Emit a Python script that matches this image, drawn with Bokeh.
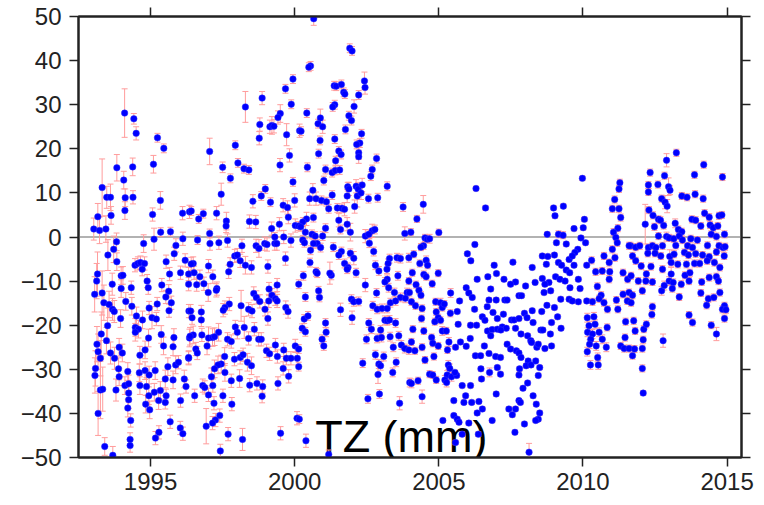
from bokeh.plotting import figure
from bokeh.models import ColumnDataSource, Whisker, TeeHead, FixedTicker, LinearAxis, Span, Label
from bokeh.embed import file_html
from bokeh.resources import INLINE

# (decimal year, TZ in mm, error in mm), per period
seg_1993_1996 = [
    (1994.10, 28.1, 5.5), (1994.42, 26.8, 1.2), (1994.50, 23.5, 1.5), (1995.24, 22.5, 1.0), (1995.46, 20.1, 1.0),
    (1993.83, 15.7, 3.0), (1994.07, 12.9, 2.0), (1994.38, 15.9, 2.0), (1995.10, 16.5, 2.0), (1993.32, 11.2, 6.5),
    (1993.48, 9.0, 2.5), (1993.61, 9.0, 3.0), (1994.12, 8.9, 2.0), (1994.39, 9.0, 1.5), (1994.11, 6.0, 2.0),
    (1993.63, 4.9, 2.0), (1993.17, 4.6, 3.0), (1995.07, 5.1, 1.5), (1995.34, 8.3, 2.0), (1993.03, 1.8, 2.5),
    (1993.23, 1.5, 3.0), (1993.45, 1.8, 3.0), (1995.35, 1.1, 1.0), (1995.69, 1.2, 1.0), (1996.11, 5.4, 1.5),
    (1996.35, 5.7, 1.5), (1995.12, -0.5, 2.5), (1993.82, -1.1, 2.0), (1994.76, -1.5, 2.0), (1993.72, -2.8, 3.0),
    (1993.52, -4.1, 3.5), (1993.83, -5.6, 2.0), (1994.46, -6.4, 1.5), (1994.56, -6.0, 1.5), (1994.65, -5.8, 1.5),
    (1994.79, -6.0, 1.5), (1994.71, -7.3, 1.5), (1995.54, -5.6, 1.5), (1995.88, -1.9, 1.5), (1996.12, -0.4, 1.5),
    (1995.82, -3.8, 1.5), (1996.20, -5.3, 1.5), (1996.32, -8.4, 1.5), (1996.04, -8.1, 1.5), (1995.66, -8.4, 1.5),
    (1993.16, -8.4, 5.0), (1993.13, -10.0, 4.0), (1993.67, -10.7, 2.5), (1993.98, -8.8, 2.0), (1994.04, -8.7, 2.0),
    (1993.98, -11.7, 2.0), (1994.33, -11.5, 1.5), (1994.88, -10.0, 1.5), (1994.92, -11.5, 1.5), (1995.39, -10.9, 1.5),
    (1995.63, -12.3, 1.5), (1995.53, -13.6, 1.5), (1993.06, -13.0, 4.0), (1993.32, -12.7, 5.0), (1993.38, -14.9, 4.0),
    (1993.56, -15.3, 3.0), (1993.68, -16.4, 2.5), (1993.74, -16.9, 2.5), (1994.14, -14.6, 2.0), (1994.35, -15.7, 2.0),
    (1993.96, -18.5, 2.0), (1994.51, -17.9, 2.0), (1994.72, -18.8, 2.0), (1994.95, -16.1, 1.5), (1995.05, -18.3, 2.5),
    (1995.23, -15.2, 1.5), (1995.20, -18.6, 1.5), (1995.64, -16.7, 1.5), (1995.72, -14.9, 1.5), (1996.33, -16.8, 1.5),
    (1993.51, -20.1, 4.0), (1994.47, -20.5, 2.0), (1994.58, -20.9, 2.0), (1994.47, -21.6, 2.0), (1993.29, -22.0, 5.0),
    (1994.93, -22.9, 2.0), (1995.37, -22.1, 2.0), (1995.81, -22.8, 2.0), (1996.35, -22.9, 2.0), (1993.14, -24.3, 4.0),
    (1993.47, -23.5, 3.0), (1993.91, -25.0, 2.0), (1995.45, -24.7, 2.0), (1995.78, -24.9, 2.0), (1993.18, -26.0, 4.0),
    (1993.26, -27.5, 4.0), (1993.61, -26.3, 2.5), (1993.75, -27.5, 2.5), (1994.02, -26.3, 2.0), (1994.81, -25.6, 2.0),
    (1994.63, -26.8, 2.0), (1995.60, -29.4, 2.0), (1995.87, -29.0, 2.0), (1995.97, -28.4, 1.5), (1996.32, -27.5, 1.5),
    (1993.09, -29.8, 4.0), (1993.07, -31.4, 4.0), (1993.89, -29.9, 2.5), (1994.21, -30.5, 2.0), (1994.61, -30.8, 2.0),
    (1994.81, -30.3, 2.0), (1994.95, -31.3, 2.0), (1995.16, -30.3, 2.0), (1993.91, -31.7, 2.0), (1995.51, -32.2, 2.0),
    (1995.78, -32.4, 2.0), (1996.17, -32.2, 2.0), (1993.26, -34.7, 6.5), (1993.34, -34.5, 5.0), (1993.80, -34.7, 2.5),
    (1994.11, -33.7, 2.0), (1994.24, -33.3, 2.0), (1994.63, -33.7, 2.0), (1994.86, -33.9, 2.0), (1994.94, -36.0, 2.0),
    (1995.13, -35.2, 2.0), (1995.34, -34.8, 2.0), (1996.23, -33.9, 1.5), (1994.24, -35.4, 2.0), (1994.24, -36.9, 2.0),
    (1994.21, -38.8, 2.0), (1994.83, -37.9, 2.0), (1994.97, -39.2, 2.0), (1995.28, -37.1, 2.0), (1995.54, -36.0, 1.5),
    (1995.51, -37.5, 1.5), (1996.04, -37.1, 1.5), (1993.18, -40.0, 5.0), (1994.31, -41.6, 1.5), (1995.68, -41.9, 1.5),
    (1995.29, -44.3, 1.5), (1995.17, -45.6, 1.5), (1996.03, -43.3, 1.5), (1996.12, -44.6, 1.5), (1994.29, -45.9, 1.5),
    (1994.29, -47.3, 1.5), (1993.41, -47.5, 2.0), (1993.69, -49.5, 2.0),
]

seg_1996_2000 = [
    (1999.94, 35.8, 1.0), (1999.68, 33.6, 1.0), (1999.88, 30.1, 1.0), (1998.87, 31.5, 1.5), (1998.29, 29.5, 3.5),
    (1999.50, 28.0, 2.0), (1999.42, 27.1, 1.5), (1998.79, 25.5, 1.5), (1999.14, 25.0, 1.5), (1999.21, 25.3, 2.0),
    (1999.28, 25.1, 1.5), (1998.77, 22.4, 1.5), (1999.72, 23.2, 2.5), (2000.17, 24.1, 1.5), (1997.94, 20.8, 1.0),
    (1997.05, 19.4, 3.0), (1999.82, 18.5, 1.5), (1999.49, 16.3, 1.5), (1998.03, 16.8, 1.0), (1998.24, 15.5, 1.0),
    (1998.41, 15.2, 1.0), (1997.50, 15.8, 1.2), (1997.77, 13.3, 1.0), (1999.94, 12.5, 1.0), (1998.98, 10.9, 1.0),
    (1998.84, 9.3, 1.0), (1997.45, 9.7, 2.5), (1998.55, 8.1, 1.5), (1999.16, 7.9, 1.0), (2000.00, 8.3, 1.5),
    (1999.60, 7.2, 1.5), (1999.75, 6.7, 1.5), (1996.41, 5.9, 1.0), (1996.67, 4.1, 1.0), (1996.83, 5.3, 1.0),
    (1997.29, 5.4, 1.5), (1997.63, 3.6, 2.0), (1997.62, 2.5, 1.5), (1998.43, 3.5, 1.5), (1998.65, 3.4, 1.5),
    (1999.78, 4.5, 1.5), (1999.47, 2.9, 1.5), (1999.20, 1.9, 1.5), (2000.02, 2.6, 1.5), (1997.05, 0.8, 1.0),
    (1999.31, 0.0, 1.0), (1999.62, 0.0, 1.5), (1996.63, -0.7, 1.0), (1997.67, -0.8, 1.5), (1998.17, -2.0, 1.5),
    (1998.66, -2.0, 1.5), (1999.87, -0.8, 1.5), (1997.06, -1.5, 1.5), (1997.37, -1.3, 1.5), (1998.76, -2.6, 2.0),
    (1998.96, -1.5, 1.5), (1999.04, -1.7, 1.5), (1999.31, -1.5, 1.5), (1999.38, -1.5, 1.5), (1999.68, -4.9, 1.5),
    (1997.92, -4.3, 1.5), (1998.01, -4.1, 1.5), (1997.76, -6.2, 1.5), (1998.11, -5.4, 1.5), (1998.29, -6.4, 2.0),
    (1998.50, -6.9, 1.5), (1999.07, -6.7, 1.5), (1997.71, -7.9, 1.5), (1996.48, -6.0, 1.5), (1996.41, -6.1, 1.5),
    (1997.01, -6.6, 1.5), (1996.51, -8.1, 1.5), (1996.71, -9.0, 1.5), (1997.16, -9.0, 1.5), (1996.32, -10.7, 1.5),
    (1996.60, -10.8, 1.5), (1996.85, -10.6, 1.5), (1997.30, -11.7, 1.5), (1997.00, -12.6, 2.0), (1997.28, -12.1, 1.5),
    (1999.39, -10.9, 1.5), (1999.11, -11.8, 1.5), (1998.58, -12.8, 1.5), (1998.67, -13.7, 1.5), (1999.21, -13.2, 1.5),
    (1999.33, -14.0, 1.5), (1999.39, -14.5, 1.5), (1998.79, -14.6, 1.5), (1999.10, -14.5, 1.5), (1998.14, -15.6, 3.5),
    (1997.73, -15.2, 1.5), (1997.58, -16.0, 1.5), (1997.52, -16.6, 1.5), (1998.40, -16.4, 1.5), (1998.52, -16.8, 1.5),
    (1998.97, -16.4, 1.5), (1999.69, -16.0, 1.5), (1999.77, -16.9, 1.5), (1996.39, -16.8, 1.5), (1996.76, -17.0, 1.5),
    (1996.76, -18.8, 1.5), (1996.44, -18.3, 1.5), (1999.07, -18.5, 1.5), (1997.94, -20.4, 1.5), (1998.25, -20.5, 2.5),
    (1998.60, -20.9, 1.5), (1998.01, -21.6, 1.5), (1996.48, -22.2, 2.0), (1996.37, -22.5, 2.0), (1996.78, -22.2, 1.5),
    (1997.01, -22.9, 2.5), (1997.15, -22.8, 2.0), (1997.36, -21.6, 2.0), (1997.22, -22.6, 2.0), (1997.67, -23.2, 1.5),
    (1997.80, -23.7, 1.5), (1998.40, -23.0, 1.5), (1998.75, -23.2, 1.5), (1998.84, -23.2, 1.5), (1996.96, -24.7, 2.0),
    (1996.57, -25.4, 1.5), (1996.62, -26.3, 1.5), (1996.32, -27.3, 1.5), (1997.57, -27.1, 2.0), (1997.91, -27.7, 1.5),
    (1998.11, -27.3, 1.5), (1998.21, -26.7, 1.5), (1999.02, -25.8, 1.5), (1999.33, -24.5, 1.5), (1999.13, -26.5, 1.5),
    (1999.40, -27.1, 1.5), (1999.62, -25.6, 1.5), (1999.71, -27.5, 1.5), (1999.87, -27.5, 1.5), (2000.02, -24.7, 1.5),
    (2000.09, -27.5, 1.5), (1998.36, -28.4, 2.0), (1998.50, -29.2, 2.0), (1997.45, -28.8, 2.0), (1997.34, -29.0, 2.0),
    (1997.22, -29.9, 2.0), (1999.60, -29.8, 1.5), (1997.11, -31.7, 2.0), (1997.58, -30.7, 2.0), (1999.79, -31.6, 1.5),
    (1997.80, -32.6, 1.5), (1998.09, -32.1, 2.0), (1998.44, -33.6, 1.5), (1998.69, -33.2, 1.5), (1998.89, -33.9, 1.5),
    (1999.42, -33.2, 1.5), (1996.81, -33.7, 1.5), (1996.88, -34.1, 1.5), (1997.16, -33.7, 1.5), (1996.53, -36.0, 1.5),
    (1997.01, -35.8, 1.5), (1997.51, -36.0, 1.5), (1997.20, -37.7, 1.5), (1997.82, -37.9, 1.5), (1998.87, -36.1, 1.5),
    (1997.40, -40.5, 1.5), (1997.25, -41.5, 1.5), (1997.15, -42.2, 1.5), (1996.93, -42.9, 4.0), (1997.69, -44.7, 1.5),
    (1998.19, -45.9, 2.5), (1999.51, -44.5, 1.5), (2000.08, -41.1, 1.5), (1997.42, -48.5, 1.5),
]

seg_2000_2004 = [
    (2000.66, 49.5, 1.5), (2001.91, 42.8, 1.0), (2001.99, 42.2, 1.0), (2000.55, 38.8, 1.0), (2000.49, 38.5, 1.0),
    (2001.37, 34.3, 1.0), (2001.44, 34.2, 1.0), (2001.62, 34.6, 1.0), (2002.42, 35.4, 2.0), (2002.44, 33.9, 1.5),
    (2001.70, 32.8, 1.0), (2001.74, 32.4, 1.0), (2002.22, 32.2, 1.0), (2000.42, 28.1, 1.0), (2000.22, 24.0, 1.0),
    (2001.39, 30.0, 1.0), (2001.32, 29.5, 1.0), (2002.06, 29.6, 1.5), (2000.89, 27.0, 2.0), (2000.81, 25.7, 1.0),
    (2000.97, 25.0, 1.5), (2001.88, 27.5, 1.0), (2001.97, 26.4, 1.0), (2001.76, 24.4, 1.0), (2002.32, 23.4, 1.0),
    (2002.26, 21.3, 1.0), (2002.15, 21.0, 1.0), (2002.22, 19.1, 1.5), (2002.22, 18.2, 1.5), (2001.39, 22.2, 1.0),
    (2000.88, 21.9, 1.0), (2000.83, 18.9, 1.0), (2001.53, 19.5, 1.0), (2001.61, 18.7, 1.0), (2001.42, 17.3, 1.0),
    (2002.84, 17.8, 1.0), (2000.44, 15.8, 1.0), (2001.07, 15.3, 1.0), (2001.30, 14.6, 1.0), (2001.41, 15.1, 1.0),
    (2001.56, 15.2, 1.0), (2002.69, 15.3, 1.0), (2002.64, 13.8, 1.0), (2001.01, 12.8, 1.0), (2001.84, 11.4, 1.0),
    (2001.88, 10.9, 1.5), (2002.13, 11.5, 1.5), (2002.20, 10.9, 1.5), (2002.34, 11.8, 1.5), (2003.21, 11.5, 1.0),
    (2000.63, 10.6, 1.5), (2000.52, 8.7, 1.5), (2000.74, 8.7, 1.5), (2000.93, 8.3, 1.0), (2001.10, 8.0, 1.0),
    (2001.30, 9.5, 1.0), (2001.18, 6.4, 1.0), (2001.82, 9.3, 1.5), (2002.17, 9.3, 2.5), (2002.30, 10.0, 1.5),
    (2002.56, 8.7, 1.0), (2002.88, 8.9, 1.0), (2001.48, 6.6, 1.0), (2001.64, 6.5, 1.0), (2001.73, 6.3, 1.5),
    (2002.08, 6.9, 1.5), (2003.76, 6.8, 1.0), (2000.41, 4.1, 1.5), (2000.65, 4.4, 1.0), (2000.28, 3.4, 1.0),
    (2001.53, 3.8, 1.5), (2001.82, 2.9, 1.5), (2001.07, 2.0, 1.0), (2001.59, 1.7, 1.0), (2001.93, 1.1, 2.0),
    (2000.14, 2.5, 1.0), (2000.21, 2.3, 1.0), (2002.69, 1.4, 1.5), (2002.78, 1.7, 1.0), (2000.37, 1.1, 1.5),
    (2000.60, 0.6, 1.0), (2000.71, 0.2, 1.0), (2002.45, 0.2, 1.5), (2002.57, 0.6, 1.0), (2000.97, 0.2, 1.0),
    (2003.82, 0.8, 1.5), (2000.28, -0.7, 1.0), (2000.34, -1.3, 1.0), (2000.78, -1.5, 1.0), (2000.65, -1.5, 1.0),
    (2000.90, -2.4, 1.0), (2000.55, -3.0, 1.0), (2002.59, -1.4, 1.0), (2001.34, -2.3, 1.0), (2001.62, -3.3, 1.0),
    (2001.53, -4.1, 1.0), (2001.93, -3.7, 1.0), (2002.05, -4.8, 1.5), (2002.74, -3.3, 1.0), (2000.53, -5.8, 1.0),
    (2001.73, -6.0, 1.0), (2001.85, -6.9, 1.0), (2003.29, -4.9, 1.0), (2003.55, -4.7, 1.0), (2003.67, -4.9, 1.0),
    (2002.80, -6.4, 1.0), (2002.92, -7.7, 1.0), (2003.24, -6.0, 1.0), (2003.20, -7.3, 1.0), (2003.96, -4.7, 1.0),
    (2000.74, -7.9, 1.0), (2001.27, -8.7, 1.0), (2001.22, -8.2, 2.5), (2000.78, -8.2, 1.0), (2001.82, -7.3, 1.0),
    (2002.13, -8.1, 1.0), (2003.21, -9.6, 1.0), (2003.58, -8.8, 1.0), (2003.13, -10.2, 1.0), (2002.45, -10.9, 1.5),
    (2003.26, -11.5, 1.0), (2000.14, -10.7, 1.0), (2000.30, -8.8, 1.0), (2000.37, -13.6, 1.0), (2000.83, -12.2, 1.0),
    (2000.86, -13.7, 1.0), (2002.84, -12.7, 1.0), (2003.46, -12.6, 1.0), (2003.90, -12.6, 1.0), (2001.97, -14.1, 1.0),
    (2002.05, -14.7, 1.0), (2002.22, -14.6, 1.0), (2003.67, -13.7, 1.0), (2001.59, -16.5, 1.5), (2002.71, -15.6, 1.0),
    (2002.86, -16.4, 1.0), (2003.03, -16.2, 1.0), (2003.32, -14.9, 1.0), (2003.50, -14.5, 1.0), (2003.21, -16.2, 1.0),
    (2003.84, -13.9, 1.0), (2001.99, -18.3, 1.5), (2000.33, -18.6, 1.0), (2001.07, -19.5, 1.0), (2000.46, -17.9, 1.0),
    (2003.13, -18.9, 1.0), (2003.21, -19.0, 1.0), (2003.29, -18.8, 1.0), (2003.50, -19.5, 1.0), (2002.57, -19.5, 1.0),
    (2002.66, -20.9, 1.0), (2002.98, -21.1, 1.0), (2000.26, -20.7, 1.0), (2000.37, -21.5, 1.0), (2001.09, -21.6, 1.0),
    (2000.95, -23.2, 1.0), (2001.01, -24.7, 1.0), (2002.49, -23.2, 1.0), (2002.86, -23.0, 1.0), (2003.01, -22.8, 1.0),
    (2003.31, -22.6, 1.0), (2003.61, -22.4, 1.0), (2003.42, -25.0, 1.0), (2003.70, -24.5, 1.0), (2003.82, -25.3, 1.0),
    (2003.96, -25.6, 1.0), (2000.14, -25.4, 1.0), (2002.80, -26.7, 1.0), (2003.09, -27.1, 1.0), (2002.36, -28.6, 1.0),
    (2002.92, -28.8, 1.0), (2002.98, -29.2, 1.0), (2003.52, -28.4, 1.0), (2000.14, -29.4, 1.0), (2002.89, -31.2, 2.0),
    (2003.40, -30.7, 1.0), (2003.99, -33.0, 1.0), (2002.94, -35.6, 1.0), (2002.54, -36.7, 1.0), (2003.64, -37.7, 1.5),
    (2000.39, -46.2, 1.5), (2001.18, -49.3, 1.0), (2000.16, -41.3, 1.0),
]

seg_2004_2007 = [
    (2006.29, 11.0, 0.5), (2006.62, 6.6, 0.5), (2004.46, 7.4, 2.0), (2004.24, 4.1, 0.8), (2004.03, 1.1, 0.8),
    (2005.00, 1.0, 0.8), (2004.52, -0.2, 0.8), (2004.60, -0.5, 0.8), (2004.68, -0.4, 1.0), (2004.47, -2.0, 0.8),
    (2004.38, -2.3, 0.8), (2004.13, -3.9, 0.8), (2006.25, -1.7, 0.5), (2005.99, -3.8, 0.5), (2006.11, -5.4, 0.5),
    (2006.92, -6.4, 0.5), (2007.00, -8.3, 0.5), (2007.57, -5.7, 0.5), (2004.56, -5.3, 1.0), (2004.34, -6.0, 0.8),
    (2004.61, -6.4, 0.8), (2004.08, -8.1, 0.8), (2004.98, -8.2, 0.8), (2004.48, -8.5, 0.8), (2004.56, -9.0, 0.8),
    (2004.21, -10.8, 0.8), (2004.77, -10.6, 0.8), (2003.96, -10.0, 0.8), (2006.33, -9.6, 0.5), (2006.70, -9.0, 0.5),
    (2007.26, -9.6, 0.5), (2007.66, -10.2, 0.5), (2005.95, -11.5, 0.5), (2006.04, -12.7, 0.5), (2006.16, -13.7, 0.5),
    (2005.41, -12.7, 1.0), (2006.80, -11.8, 0.5), (2007.49, -10.7, 0.5), (2003.98, -12.6, 0.8), (2004.31, -12.1, 0.8),
    (2004.38, -13.2, 0.8), (2004.05, -14.7, 0.8), (2004.19, -15.6, 0.8), (2004.89, -14.7, 0.8), (2005.06, -14.9, 1.0),
    (2005.12, -16.0, 0.8), (2005.19, -15.2, 0.8), (2005.72, -14.5, 0.5), (2006.74, -14.3, 0.5), (2006.99, -14.3, 0.5),
    (2007.29, -14.3, 0.5), (2007.37, -14.3, 0.5), (2007.78, -13.3, 0.5), (2006.24, -16.4, 0.5), (2006.68, -15.8, 0.5),
    (2004.42, -16.2, 0.8), (2004.91, -17.0, 0.8), (2005.40, -17.3, 0.8), (2005.64, -16.9, 0.5), (2006.88, -17.1, 0.5),
    (2007.03, -18.5, 0.5), (2007.24, -17.5, 0.5), (2007.52, -18.8, 0.5), (2004.98, -18.3, 0.8), (2005.06, -18.9, 0.8),
    (2004.40, -18.5, 0.8), (2004.86, -19.2, 0.8), (2005.67, -19.8, 0.5), (2006.10, -20.0, 0.5), (2006.31, -20.0, 0.5),
    (2006.51, -18.1, 0.5), (2006.60, -18.9, 0.5), (2007.20, -20.4, 0.5), (2007.34, -20.7, 0.5), (2007.61, -18.8, 0.5),
    (2004.10, -20.9, 0.8), (2004.48, -21.3, 0.8), (2005.12, -21.3, 1.0), (2005.26, -21.3, 0.8), (2006.69, -21.3, 0.5),
    (2006.85, -21.0, 0.5), (2007.03, -20.9, 0.5), (2007.15, -21.1, 0.5), (2007.66, -20.7, 0.5), (2006.09, -23.0, 0.5),
    (2006.80, -22.4, 0.5), (2004.75, -22.8, 0.8), (2004.05, -23.8, 0.8), (2004.79, -24.1, 0.8), (2005.35, -23.8, 1.0),
    (2005.75, -23.8, 0.5), (2005.95, -24.8, 0.5), (2006.58, -24.7, 0.5), (2007.37, -24.3, 0.5), (2007.49, -25.4, 0.5),
    (2007.69, -25.8, 0.5), (2004.17, -25.8, 0.8), (2004.42, -25.0, 0.8), (2004.98, -24.7, 0.8), (2005.30, -25.6, 0.8),
    (2005.58, -25.0, 0.5), (2006.27, -26.9, 0.5), (2006.45, -26.9, 0.5), (2006.74, -26.4, 0.5), (2006.97, -27.1, 0.5),
    (2007.14, -27.3, 0.5), (2007.78, -26.3, 0.5), (2004.83, -27.1, 0.8), (2004.52, -27.9, 0.8), (2005.33, -29.0, 1.0),
    (2005.38, -29.8, 1.0), (2004.68, -31.1, 0.8), (2004.79, -31.3, 0.8), (2005.29, -31.3, 1.0), (2005.44, -31.7, 1.0),
    (2005.62, -31.4, 0.5), (2005.56, -30.7, 0.5), (2006.46, -29.9, 0.5), (2006.76, -30.7, 1.0), (2007.14, -31.1, 0.5),
    (2007.03, -29.6, 0.5), (2004.05, -33.2, 1.0), (2004.28, -32.6, 0.8), (2004.91, -32.4, 0.8), (2005.21, -32.4, 1.0),
    (2005.27, -33.0, 1.0), (2005.81, -33.7, 0.5), (2006.10, -33.7, 0.5), (2006.48, -32.2, 0.5), (2006.99, -35.6, 0.5),
    (2007.78, -31.3, 0.5), (2004.42, -36.2, 1.5), (2005.52, -37.1, 0.5), (2005.93, -36.0, 0.5), (2005.87, -37.5, 0.5),
    (2006.14, -37.5, 0.5), (2006.39, -37.3, 0.5), (2006.51, -39.0, 0.5), (2006.33, -39.9, 0.5), (2007.78, -37.1, 0.5),
    (2007.43, -39.0, 0.5), (2007.55, -40.3, 0.5), (2007.66, -39.0, 0.5), (2005.52, -40.5, 0.5), (2005.64, -41.3, 0.5),
    (2005.70, -42.0, 0.5), (2005.14, -41.6, 0.5), (2006.04, -42.2, 0.5), (2005.81, -44.7, 0.5), (2006.85, -41.6, 0.5),
    (2006.37, -44.7, 0.5), (2007.64, -44.3, 0.5), (2005.58, -46.6, 0.5),
]

seg_2007_2011 = [
    (2009.98, 13.3, 0.5), (2011.28, 12.3, 0.8), (2011.25, 10.9, 0.8), (2011.10, 8.5, 0.8), (2008.98, 6.6, 0.5),
    (2009.32, 7.0, 0.5), (2009.03, 4.8, 0.5), (2011.02, 6.4, 0.8), (2011.25, 6.4, 0.8), (2010.05, 4.0, 0.5),
    (2009.69, 1.9, 0.5), (2010.01, 2.1, 0.5), (2011.31, 4.4, 0.8), (2011.21, 2.0, 0.8), (2008.76, 0.6, 0.5),
    (2009.15, 0.6, 0.8), (2009.31, 0.4, 0.8), (2011.06, 1.1, 0.8), (2009.93, -0.2, 0.5), (2010.09, -1.3, 0.5),
    (2011.14, -0.1, 0.8), (2011.19, -1.3, 0.8), (2009.08, -1.3, 0.5), (2009.42, -1.6, 0.5), (2011.65, -2.0, 0.8),
    (2009.82, -2.8, 0.5), (2011.02, -2.8, 0.8), (2009.72, -3.5, 0.5), (2008.59, -4.3, 0.5), (2008.78, -4.4, 0.5),
    (2009.01, -4.1, 0.5), (2009.52, -5.1, 0.5), (2009.63, -4.3, 0.5), (2010.30, -5.3, 0.8), (2010.73, -4.3, 0.8),
    (2010.91, -5.8, 0.8), (2011.11, -4.7, 0.8), (2008.73, -6.2, 0.5), (2009.15, -5.8, 0.5), (2009.26, -6.4, 0.5),
    (2009.69, -6.4, 0.5), (2010.13, -6.4, 0.5), (2008.24, -6.9, 0.5), (2009.42, -7.5, 0.5), (2009.54, -8.1, 0.5),
    (2010.44, -7.9, 0.8), (2010.67, -7.7, 0.8), (2010.93, -7.9, 0.8), (2011.39, -8.1, 0.8), (2008.59, -9.4, 0.5),
    (2009.05, -9.0, 0.5), (2009.20, -9.6, 0.5), (2009.38, -10.0, 0.5), (2009.84, -9.6, 0.5), (2010.50, -11.2, 0.8),
    (2010.91, -9.6, 0.8), (2011.55, -9.6, 0.8), (2008.01, -11.1, 0.5), (2008.34, -10.3, 0.5), (2008.82, -10.3, 0.5),
    (2008.68, -10.7, 0.5), (2008.88, -12.2, 0.5), (2009.55, -11.5, 0.5), (2009.90, -11.7, 0.5), (2010.63, -13.2, 0.8),
    (2007.87, -13.3, 0.5), (2008.65, -12.6, 0.5), (2009.23, -14.1, 0.5), (2009.52, -14.1, 0.5), (2009.63, -14.5, 0.5),
    (2009.84, -14.7, 0.5), (2010.13, -14.5, 0.5), (2010.33, -14.7, 0.8), (2010.56, -14.0, 0.8), (2010.73, -14.9, 0.8),
    (2011.16, -14.3, 0.8), (2011.39, -13.0, 0.8), (2011.54, -14.5, 0.8), (2008.75, -15.5, 0.5), (2009.01, -16.0, 0.5),
    (2010.85, -16.4, 0.8), (2011.21, -16.4, 0.8), (2007.97, -17.3, 0.5), (2008.24, -16.7, 0.5), (2008.06, -18.3, 0.5),
    (2008.57, -16.9, 0.5), (2009.12, -18.1, 0.5), (2010.15, -18.3, 1.0), (2010.38, -18.1, 1.0), (2007.78, -18.5, 0.5),
    (2008.27, -19.4, 0.5), (2008.91, -19.4, 0.5), (2010.21, -20.1, 1.0), (2010.42, -19.8, 1.0), (2011.48, -19.2, 0.8),
    (2010.84, -20.5, 0.8), (2009.24, -20.7, 0.5), (2008.54, -21.1, 0.5), (2008.61, -21.1, 0.5), (2008.87, -22.0, 0.5),
    (2010.16, -21.6, 1.0), (2010.33, -22.0, 1.0), (2010.56, -21.6, 1.0), (2007.85, -22.0, 0.5), (2008.08, -22.4, 0.5),
    (2008.19, -23.5, 0.5), (2010.27, -23.2, 1.0), (2010.67, -23.2, 1.0), (2011.46, -22.8, 0.8), (2010.81, -25.0, 1.0),
    (2008.22, -23.9, 0.5), (2008.40, -25.0, 0.5), (2008.45, -24.3, 0.5), (2008.68, -25.3, 0.5), (2008.91, -24.7, 0.5),
    (2010.23, -24.3, 1.0), (2010.46, -24.7, 1.0), (2011.31, -24.7, 0.8), (2011.43, -25.3, 0.8), (2010.15, -26.0, 1.0),
    (2010.51, -27.3, 1.0), (2011.60, -25.3, 0.8), (2007.85, -27.3, 0.5), (2008.10, -28.1, 0.5), (2007.80, -29.9, 0.5),
    (2008.03, -29.2, 0.5), (2008.20, -29.0, 0.5), (2008.36, -28.1, 0.5), (2008.50, -29.6, 0.5), (2008.45, -31.4, 0.5),
    (2010.26, -29.0, 1.0), (2010.53, -29.0, 1.0), (2008.08, -33.1, 0.5), (2007.92, -34.3, 0.5), (2008.27, -36.0, 0.5),
    (2007.83, -37.5, 0.5), (2008.38, -37.9, 0.5), (2008.50, -39.9, 0.5), (2008.45, -41.3, 0.5), (2008.36, -41.6, 0.5),
    (2007.97, -42.4, 0.5), (2008.13, -48.8, 2.0),
]

seg_2011_2015 = [
    (2013.24, 19.1, 0.8), (2012.90, 17.4, 1.5), (2014.19, 16.4, 0.8), (2012.33, 14.6, 0.8), (2013.87, 14.1, 0.8),
    (2014.84, 13.6, 0.8), (2012.83, 13.9, 0.8), (2012.60, 11.9, 0.8), (2012.27, 11.8, 0.8), (2012.97, 11.4, 2.0),
    (2013.02, 10.6, 1.0), (2012.27, 10.2, 0.8), (2013.43, 9.3, 0.8), (2013.61, 9.0, 0.8), (2013.89, 9.7, 0.8),
    (2014.17, 8.7, 0.8), (2012.73, 8.7, 0.8), (2012.85, 7.9, 1.5), (2012.92, 7.0, 1.5), (2012.29, 6.1, 0.8),
    (2012.43, 4.9, 0.8), (2012.62, 4.0, 0.8), (2014.22, 5.4, 0.8), (2013.78, 4.0, 0.8), (2013.91, 3.8, 0.8),
    (2014.38, 4.5, 0.8), (2014.72, 4.8, 0.8), (2014.82, 5.0, 0.8), (2014.09, 2.5, 0.8), (2012.16, 2.9, 4.5),
    (2012.48, 2.3, 0.8), (2012.69, 3.8, 0.8), (2012.80, 2.6, 0.8), (2013.20, 3.1, 1.0), (2013.31, 1.7, 0.8),
    (2013.43, 1.2, 0.8), (2014.41, 2.7, 0.8), (2014.52, 2.1, 0.8), (2014.68, 2.5, 0.8), (2014.45, 0.6, 0.8),
    (2014.91, 0.6, 0.8), (2012.62, 0.2, 0.8), (2012.90, 0.1, 1.0), (2012.99, -0.2, 0.8), (2013.15, -0.4, 0.8),
    (2013.34, 0.2, 0.8), (2013.45, -0.7, 0.8), (2013.74, -0.4, 0.8), (2013.97, -0.7, 0.8), (2014.63, 0.1, 0.8),
    (2011.60, -2.0, 0.8), (2011.83, -2.3, 0.8), (2011.97, -2.0, 0.8), (2012.27, -2.4, 0.8), (2012.41, -2.0, 0.8),
    (2012.53, -2.4, 0.8), (2012.76, -2.0, 0.8), (2013.22, -1.9, 0.8), (2013.63, -2.0, 0.8), (2013.80, -2.4, 0.8),
    (2014.32, -1.9, 0.8), (2014.72, -2.0, 0.8), (2014.86, -2.4, 0.8), (2014.93, -2.2, 0.8), (2011.72, -4.3, 0.8),
    (2012.25, -3.7, 0.8), (2012.50, -3.7, 0.8), (2012.70, -4.3, 0.8), (2013.01, -4.4, 1.5), (2013.16, -3.9, 0.8),
    (2013.52, -3.5, 0.8), (2013.66, -4.1, 0.8), (2013.91, -3.8, 0.8), (2014.15, -4.1, 0.8), (2014.38, -4.5, 0.8),
    (2014.63, -3.4, 0.8), (2014.90, -4.3, 0.8), (2011.83, -5.4, 0.8), (2012.02, -6.6, 0.8), (2012.36, -6.7, 0.8),
    (2013.06, -5.8, 0.8), (2013.29, -6.2, 0.8), (2013.59, -6.2, 0.8), (2013.87, -6.0, 0.8), (2014.05, -6.0, 0.8),
    (2014.31, -5.4, 0.8), (2014.56, -5.8, 0.8), (2014.75, -6.9, 0.8), (2012.76, -7.3, 0.8), (2013.06, -8.4, 1.5),
    (2013.54, -8.7, 0.8), (2013.71, -8.1, 0.8), (2014.38, -9.2, 0.8), (2014.63, -9.0, 0.8), (2011.67, -8.8, 0.8),
    (2011.92, -10.0, 0.8), (2012.20, -8.4, 0.8), (2012.18, -10.0, 0.8), (2012.41, -10.2, 0.8), (2012.99, -10.0, 1.0),
    (2013.13, -10.3, 0.8), (2013.41, -10.7, 0.8), (2013.68, -10.0, 0.8), (2014.12, -10.2, 0.8), (2014.70, -10.0, 0.8),
    (2012.06, -12.2, 0.8), (2012.73, -12.2, 1.0), (2012.82, -11.0, 1.0), (2013.10, -11.7, 0.8), (2014.09, -12.7, 0.8),
    (2014.75, -12.6, 0.8), (2011.60, -12.6, 0.8), (2011.72, -13.2, 0.8), (2011.67, -14.9, 0.8), (2013.34, -13.6, 0.8),
    (2014.35, -14.0, 0.8), (2014.54, -13.7, 0.8), (2014.29, -15.5, 0.8), (2014.91, -15.6, 0.8), (2014.84, -16.4, 0.8),
    (2014.96, -16.5, 0.8), (2012.41, -15.8, 0.8), (2012.39, -17.6, 0.8), (2013.68, -17.7, 0.8), (2013.80, -19.4, 0.8),
    (2014.91, -18.5, 0.8), (2011.76, -19.0, 0.8), (2012.11, -20.9, 0.8), (2012.20, -19.8, 0.8), (2014.45, -20.0, 0.8),
    (2014.63, -22.0, 1.5), (2011.81, -21.3, 0.8), (2012.78, -23.5, 1.5), (2012.06, -25.3, 0.8), (2012.09, -23.3, 0.8),
    (2011.79, -25.4, 0.8), (2011.72, -26.9, 0.8), (2012.06, -29.8, 0.8), (2012.09, -35.4, 0.5),
]

x_ticks = [1995, 2000, 2005, 2010, 2015]
y_ticks = [-50, -40, -30, -20, -10, 0, 10, 20, 30, 40, 50]
title_text = "TZ (mm)"

rows = seg_1993_1996 + seg_1996_2000 + seg_2000_2004 + seg_2004_2007 + seg_2007_2011 + seg_2011_2015
years = [r[0] for r in rows]
tz = [r[1] for r in rows]
err = [r[2] for r in rows]

src = ColumnDataSource(dict(
    x=years, y=tz,
    upper=[v + e for v, e in zip(tz, err)],
    lower=[v - e for v, e in zip(tz, err)],
))

FONT = "Liberation Sans"
AX = "#222222"

p = figure(width=764, height=505, x_range=(1992.5, 2015.5), y_range=(-50, 50),
           output_backend="svg", toolbar_location=None,
           min_border_left=78, min_border_right=23, min_border_top=16, min_border_bottom=48)
p.background_fill_color = "white"
p.border_fill_color = "white"
p.outline_line_color = AX
p.outline_line_width = 2
p.xgrid.visible = False
p.ygrid.visible = False

def style_axis(ax, labels=True):
    ax.axis_line_color = AX
    ax.axis_line_width = 2
    ax.major_tick_line_color = AX
    ax.major_tick_line_width = 1.5
    ax.major_tick_out = 9
    ax.major_tick_in = 0
    ax.minor_tick_line_color = None
    ax.major_label_text_font = FONT
    ax.major_label_text_color = AX
    if labels:
        ax.major_label_text_font_size = "24px"
    else:
        ax.major_label_text_font_size = "0px"
        ax.major_label_text_alpha = 0

p.xaxis.ticker = FixedTicker(ticks=x_ticks)
p.yaxis.ticker = FixedTicker(ticks=y_ticks)
style_axis(p.xaxis[0])
style_axis(p.yaxis[0])
p.xaxis.major_label_standoff = 6
p.yaxis.major_label_standoff = 8

top = LinearAxis(ticker=FixedTicker(ticks=x_ticks))
style_axis(top, labels=False)
p.add_layout(top, "above")
right = LinearAxis(ticker=FixedTicker(ticks=y_ticks))
style_axis(right, labels=False)
p.add_layout(right, "right")

p.add_layout(Span(location=0, dimension="width", line_color="#999999", line_width=1.5, level="underlay"))

p.add_layout(Label(x=2003.7, y=-45.2, text=title_text, text_font=FONT, text_font_size="45px",
                   text_color="black", text_align="center", text_baseline="alphabetic", level="underlay"))

wh = Whisker(source=src, base="x", upper="upper", lower="lower",
             line_color="#ff9c9c", line_width=1,
             upper_head=TeeHead(size=6, line_color="#ff9c9c", line_width=1),
             lower_head=TeeHead(size=6, line_color="#ff9c9c", line_width=1))
p.add_layout(wh)

p.scatter("x", "y", source=src, size=6.5, fill_color="#0000ff", line_color="#3030ff", line_width=0.5)

open("out.html", "w").write(file_html(p, INLINE))
